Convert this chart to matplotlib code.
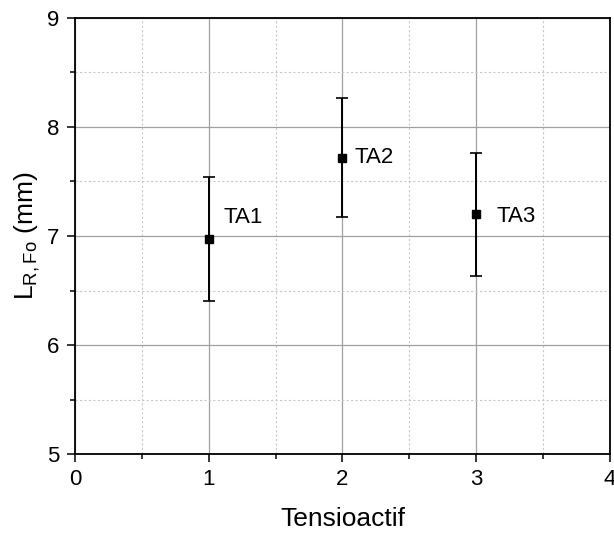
import matplotlib
matplotlib.use("Agg")
import matplotlib.pyplot as plt
from matplotlib.ticker import MultipleLocator

plt.rcParams['font.family'] = ['Liberation Sans', 'DejaVu Sans']
plt.rcParams['mathtext.fontset'] = 'custom'
plt.rcParams['mathtext.rm'] = 'Liberation Sans'

x = [1, 2, 3]
y = [6.97, 7.72, 7.20]
err = [0.57, 0.55, 0.565]
labels = ['TA1', 'TA2', 'TA3']
label_x = [1.11, 2.09, 3.15]
label_y = [7.17, 7.72, 7.18]

fig = plt.figure(figsize=(6.14, 5.34), dpi=100)
ax = fig.add_axes([0.1221, 0.1498, 0.8714, 0.8165])

ax.errorbar(x, y, yerr=err, fmt='s', color='black', ms=6, elinewidth=1.4,
            capsize=4, capthick=1.2, zorder=3)
for lx, ly, t in zip(label_x, label_y, labels):
    ax.text(lx, ly, t, fontsize=16, va='center', ha='left')

ax.set_xlim(0, 4)
ax.set_ylim(5, 9)
ax.xaxis.set_major_locator(MultipleLocator(1))
ax.xaxis.set_minor_locator(MultipleLocator(0.5))
ax.yaxis.set_major_locator(MultipleLocator(1))
ax.yaxis.set_minor_locator(MultipleLocator(0.5))
ax.grid(which='major', color='#a0a0a0', lw=0.9, ls='-', zorder=0)
ax.grid(which='minor', color='#c8c8c8', lw=0.8, ls=(0, (2, 2)), zorder=0)
ax.set_axisbelow(True)
ax.tick_params(which='major', direction='out', length=6, width=1.1, labelsize=16, pad=5)
ax.tick_params(which='minor', direction='out', length=3.5, width=1.1)
for s in ax.spines.values():
    s.set_linewidth(1.3)
    s.set_color('black')

ax.set_xlabel('Tensioactif', fontsize=19, labelpad=12)
ax.set_ylabel(r'L$_{\mathregular{R,Fo}}$ (mm)', fontsize=19, labelpad=4)

fig.savefig('out.png', dpi=100)
